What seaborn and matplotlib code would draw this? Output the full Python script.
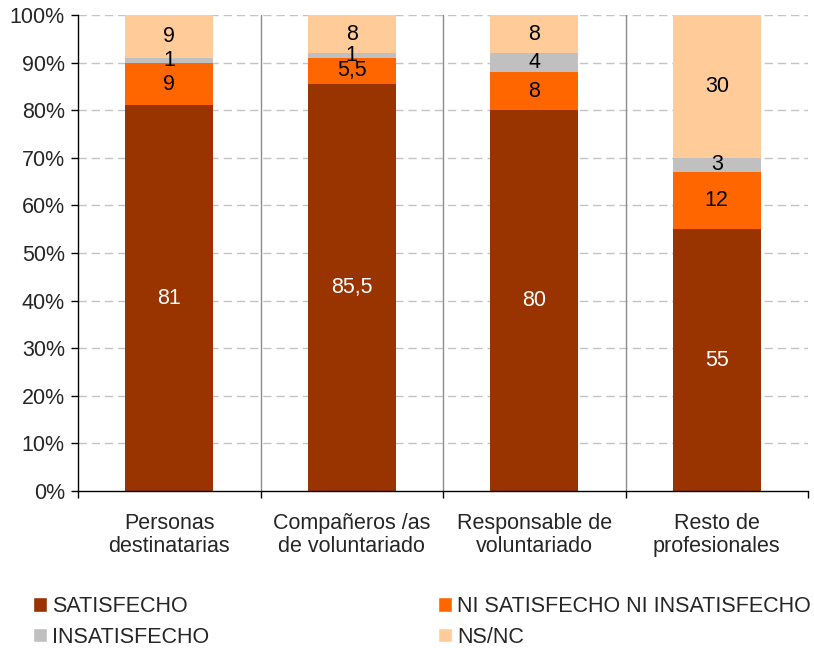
import matplotlib
matplotlib.use("Agg")
import matplotlib.pyplot as plt
import seaborn as sns
import numpy as np
import pandas as pd
from matplotlib.patches import Patch
from matplotlib.ticker import FixedLocator, PercentFormatter

categories = ["Personas\ndestinatarias", "Compañeros /as\nde voluntariado",
              "Responsable de\nvoluntariado", "Resto de\nprofesionales"]
series_names = ["SATISFECHO", "NI SATISFECHO NI INSATISFECHO", "INSATISFECHO", "NS/NC"]
satisfecho = [81, 85.5, 80, 55]
ni_ni = [9, 5.5, 8, 12]
insatisfecho = [1, 1, 4, 3]
nsnc = [9, 8, 8, 30]
label_sat = ["81", "85,5", "80", "55"]
label_ni = ["9", "5,5", "8", "12"]
label_ins = ["1", "1", "4", "3"]
label_ns = ["9", "8", "8", "30"]
colors = ["#993300", "#FF6600", "#C0C0C0", "#FFCC99"]

sns.set_style("white")
plt.rcParams["font.family"] = ["Liberation Sans", "DejaVu Sans"]
FS = 15.5

fig = plt.figure(figsize=(8.14, 6.48), dpi=100)
ax = fig.add_axes([78/814, 1-491/648, 730/814, 476/648])

values = [satisfecho, ni_ni, insatisfecho, nsnc]
cum = np.cumsum(np.array(values, dtype=float), axis=0)
df = pd.DataFrame({"cat": categories})
# draw from top layer down so stacking shows
for i in range(3, -1, -1):
    d = df.copy()
    d["v"] = cum[i]
    sns.barplot(data=d, x="cat", y="v", color=colors[i], width=0.48,
                ax=ax, saturation=1, zorder=2, edgecolor="none", linewidth=0)

ax.set_xlim(-0.5, 3.5)
ax.set_ylim(0, 100)
ax.yaxis.set_major_locator(FixedLocator(np.arange(0, 101, 10)))
ax.yaxis.set_major_formatter(PercentFormatter(decimals=0))
ax.set_xlabel("")
ax.set_ylabel("")

# gridlines
for yv in np.arange(10, 101, 10):
    ax.axhline(yv, color="#C4C4C4", lw=1, ls=(0, (6, 3.5)), zorder=0)
for xv in [0.5, 1.5, 2.5]:
    ax.axvline(xv, color="#8C8C8C", lw=1, zorder=0.5)

for s in ["top", "right"]:
    ax.spines[s].set_visible(False)
for s in ["left", "bottom"]:
    ax.spines[s].set_color("#000000")
    ax.spines[s].set_linewidth(1)

ax.tick_params(axis="y", length=5, width=1, color="black", labelsize=FS, pad=4.5, left=True)
ax.tick_params(axis="x", which="major", length=0, labelsize=FS, pad=16)
ax.xaxis.set_minor_locator(FixedLocator([-0.5, 0.5, 1.5, 2.5, 3.5]))
ax.tick_params(axis="x", which="minor", length=5, width=1, color="black", bottom=True)
for t in ax.get_xticklabels():
    t.set_linespacing(1.1)

# segment labels
labels = [label_sat, label_ni, label_ins, label_ns]
for i in range(4):
    for j in range(4):
        bottom = cum[i][j] - values[i][j]
        mid = bottom + values[i][j] / 2
        ax.text(j, mid, labels[i][j], ha="center", va="center",
                fontsize=FS, color="white" if i == 0 else "black", zorder=5)

leg_kw = dict(loc="upper left", frameon=False, fontsize=FS, handlelength=0.65,
              handleheight=0.65, handletextpad=0.25, labelspacing=0.45,
              borderpad=0, borderaxespad=0)
leg1 = fig.legend(handles=[Patch(facecolor=colors[0], label=series_names[0]),
                           Patch(facecolor=colors[2], label=series_names[2])],
                  bbox_to_anchor=(33/814, 1-596/648), **leg_kw)
leg2 = fig.legend(handles=[Patch(facecolor=colors[1], label=series_names[1]),
                           Patch(facecolor=colors[3], label=series_names[3])],
                  bbox_to_anchor=(438/814, 1-596/648), **leg_kw)

fig.savefig("out.png", dpi=100)
